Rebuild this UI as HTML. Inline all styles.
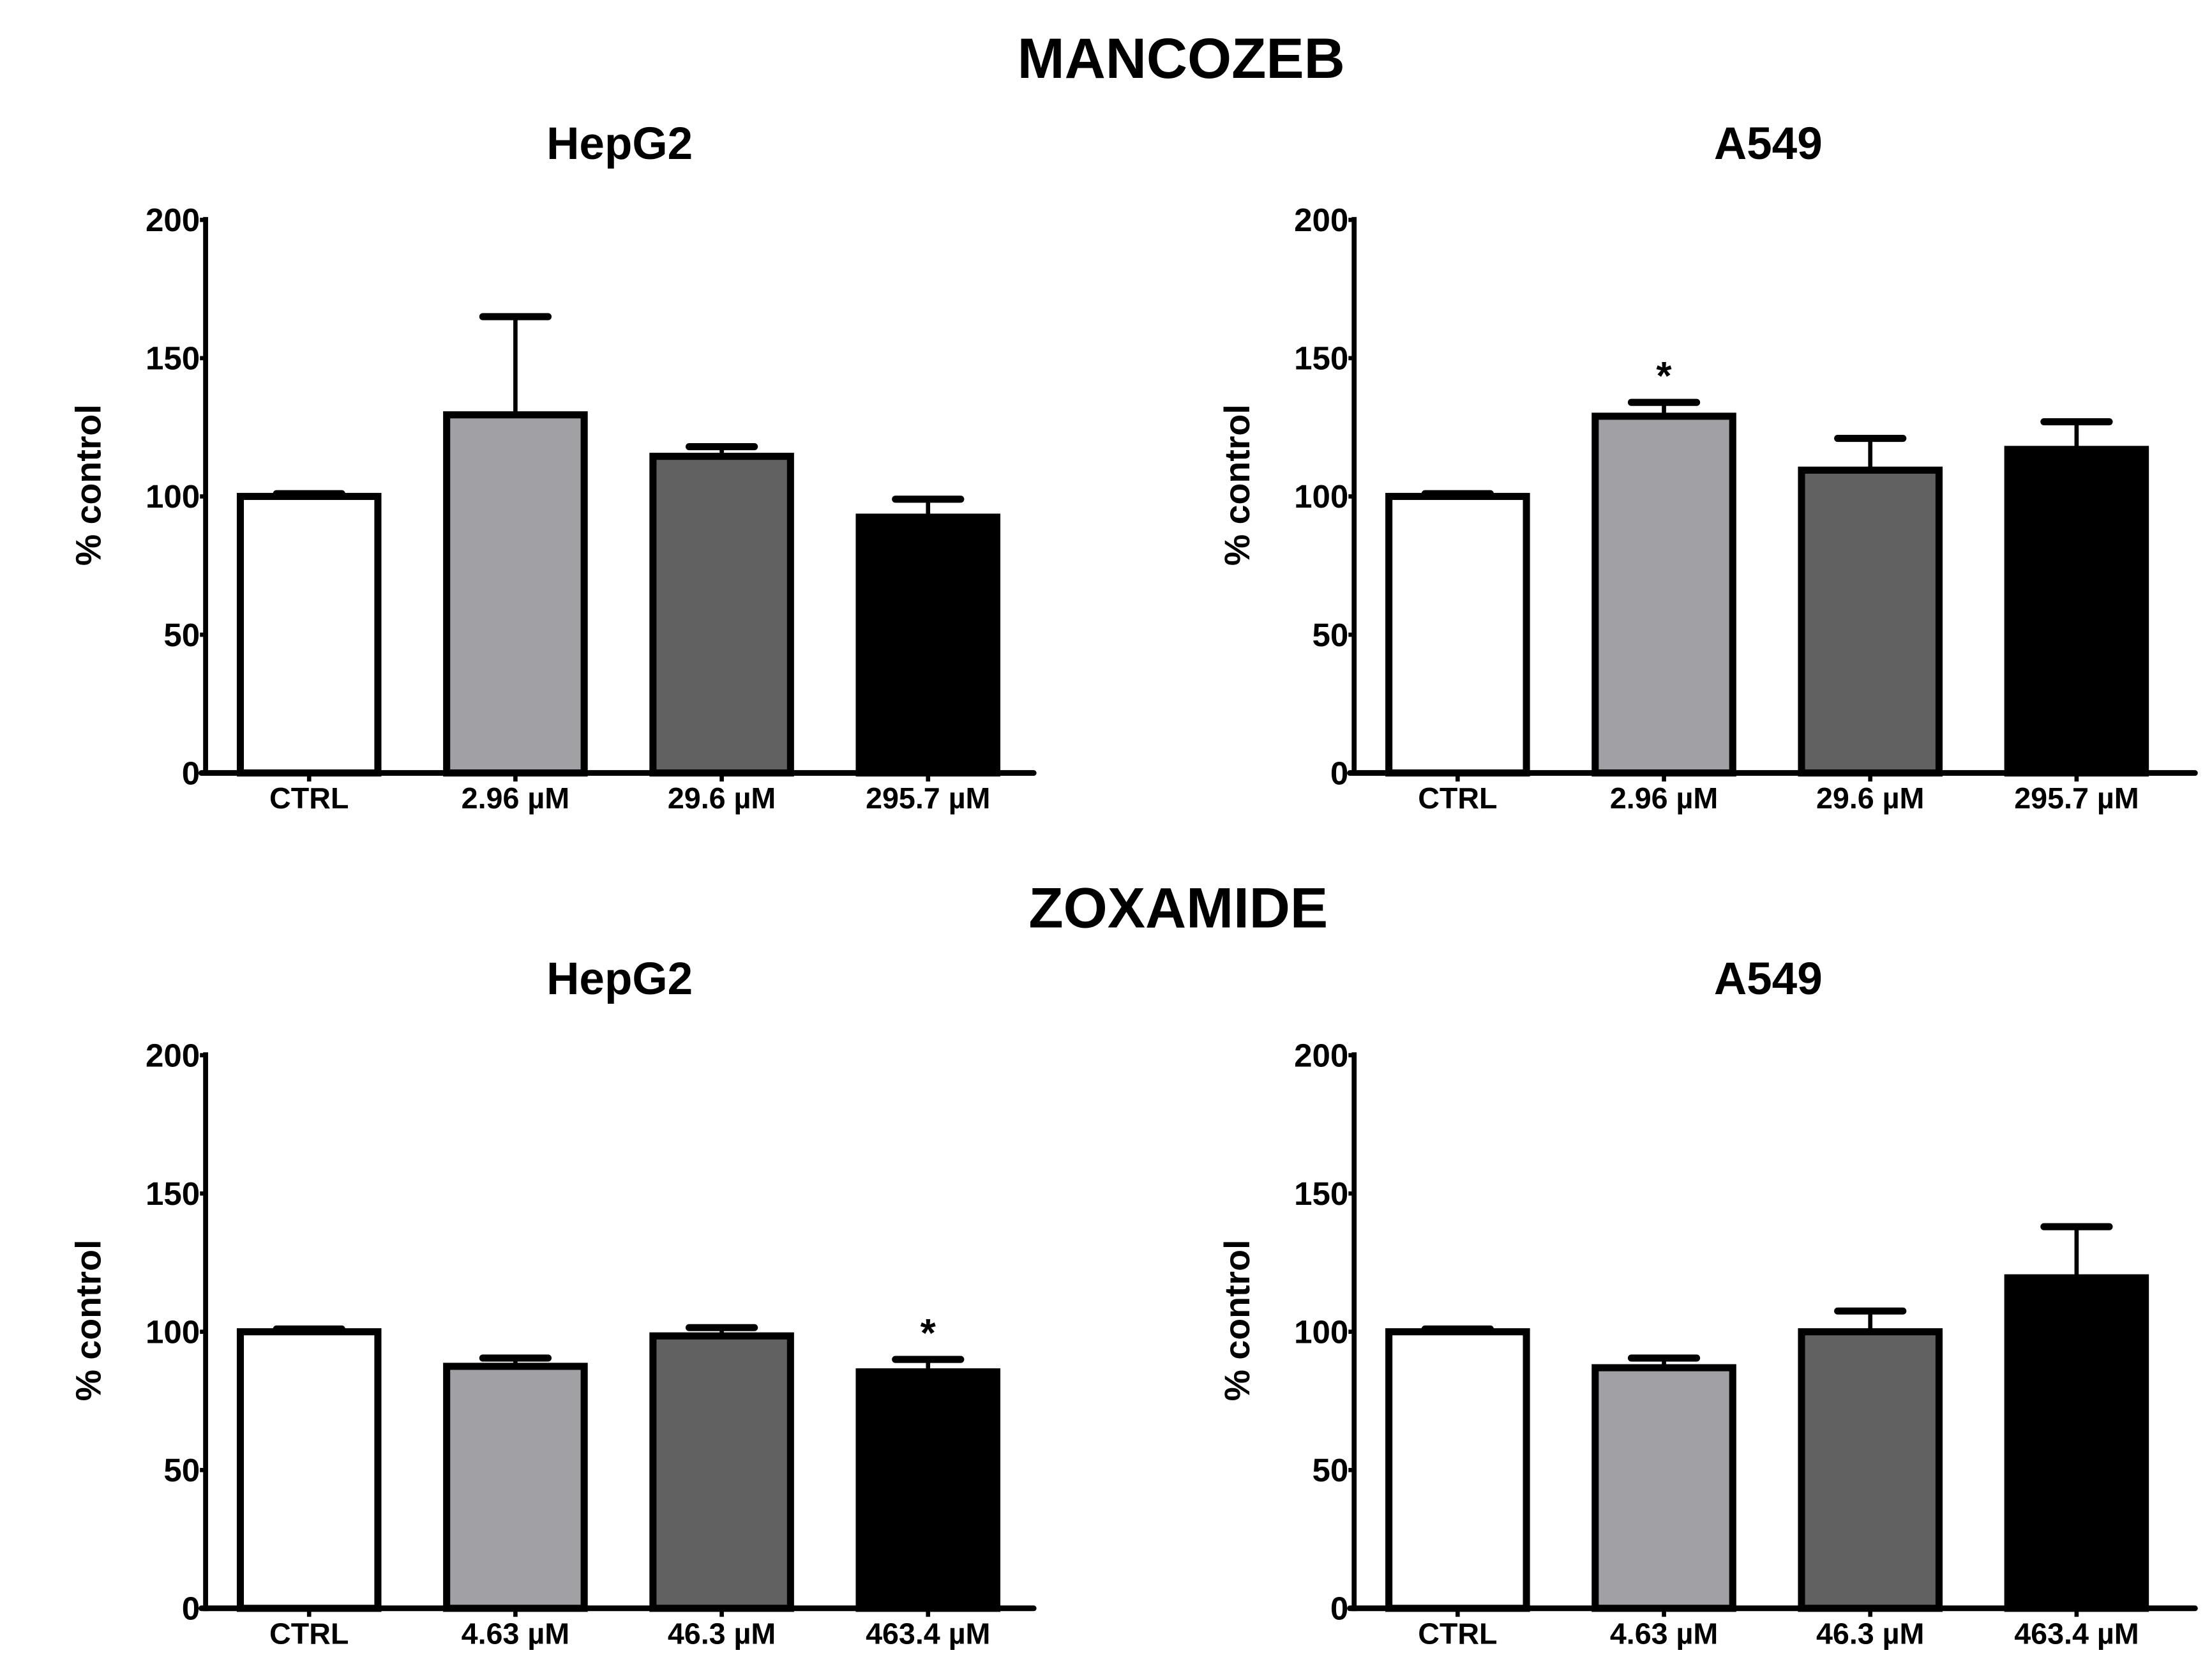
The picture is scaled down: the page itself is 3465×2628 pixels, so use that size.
<!DOCTYPE html>
<html><head><meta charset="utf-8"><style>
html,body{margin:0;padding:0;background:#fff;}
svg{display:block;}
text{font-family:"Liberation Sans",sans-serif;font-weight:bold;fill:#000;}
.n{font-family:"Liberation Sans Narrow","Liberation Sans",sans-serif;}
</style></head><body>
<svg id="fig" width="3465" height="2628" viewBox="0 0 1560 1183.1" xmlns="http://www.w3.org/2000/svg">
<text x="833" y="55" font-size="40" text-anchor="middle">MANCOZEB</text>
<text x="831" y="654" font-size="40" text-anchor="middle">ZOXAMIDE</text>
</svg>
<script>
const mancozebLabels = ["CTRL", "2.96 µM", "29.6 µM", "295.7 µM"];
const zoxamideLabels = ["CTRL", "4.63 µM", "46.3 µM", "463.4 µM"];
const yTicks = [0, 50, 100, 150, 200];
const barColors = ["#ffffff", "#a1a0a5", "#616161", "#000000"];
const mHepMeans = [100, 129.5, 114.5, 92.5];
const mHepErrs = [1, 35.5, 3.5, 6.5];
const mHepStars = [false, false, false, false];
const mA549Means = [100, 129, 109.5, 117];
const mA549Errs = [1, 5, 11.5, 10];
const mA549Stars = [false, true, false, false];
const zHepMeans = [100, 87.5, 98.5, 85.5];
const zHepErrs = [1, 3, 3, 4.5];
const zHepStars = [false, false, false, true];
const zA549Means = [100, 87, 100, 119.5];
const zA549Errs = [1, 3.5, 7.5, 18.5];
const zA549Stars = [false, false, false, false];

const NS = "http://www.w3.org/2000/svg";
const svg = document.getElementById('fig');
function mk(tag, attrs, parent) {
  const e = document.createElementNS(NS, tag);
  for (const k in attrs) e.setAttribute(k, attrs[k]);
  (parent || svg).appendChild(e);
  return e;
}
function panel(name, title, ax, xEnd, y0, labels, means, errs, stars) {
  const g = mk('g', {});
  
  
  const yTop = y0 - 390;
  const yScale = v => y0 - v * (390 / 200);
  const xCenter = i => ax + 73 + i * 145.5;
  const t = mk('text', {x: ax + 292, y: y0 - 433, 'font-size': 32, 'text-anchor': 'middle'}, g);
  t.textContent = title;
  
  
  const yl = mk('text', {x: 0, y: 0, 'font-size': 25, 'text-anchor': 'middle', transform: `translate(${ax - 74},${y0 - 203}) rotate(-90)`}, g);
  yl.textContent = '% control';
  
  
  means.forEach((m, i) => {
    const cx = xCenter(i), w = 97;
    const top = yScale(m), eTop = yScale(m + errs[i]);
    const el = mk('line', {x1: cx, x2: cx, y1: top, y2: eTop, stroke: '#000', 'stroke-width': 3}, g);
    
    
    const cap = mk('line', {x1: cx - 23, x2: cx + 23, y1: eTop, y2: eTop, stroke: '#000', 'stroke-width': 5, 'stroke-linecap': 'round'}, g);
    
    
    const r = mk('rect', {x: cx - w / 2, y: top, width: w, height: y0 - top, fill: barColors[i], stroke: '#000', 'stroke-width': 5}, g);
    
    
    if (stars[i]) {
      const s = mk('text', {x: cx, y: eTop - 9, 'font-size': 28, 'text-anchor': 'middle', 'font-weight': 'normal'}, g);
      s.textContent = '*';
      
      
    }
    const lab = mk('text', {x: cx, y: y0 + 25, 'font-size': 21, 'text-anchor': 'middle', class: 'n'}, g);
    lab.textContent = labels[i];
    
    
    const tk = mk('line', {x1: cx, x2: cx, y1: y0, y2: y0 + 6, stroke: '#000', 'stroke-width': 3}, g);
    
    
  });
  yTicks.forEach(v => {
    const yy = yScale(v);
    const tl = mk('text', {x: ax - 4, y: yy + 8, 'font-size': 23, 'text-anchor': 'end', class: 'n'}, g);
    tl.textContent = v;
    
    
    const tk = mk('line', {x1: ax - 4, x2: ax, y1: yy, y2: yy, stroke: '#000', 'stroke-width': 3}, g);
    
    
  });
  const ya = mk('line', {x1: ax, x2: ax, y1: yTop - 2, y2: y0 + 2, stroke: '#000', 'stroke-width': 3.5}, g);
  
  
  const xa = mk('line', {x1: ax - 3, x2: xEnd, y1: y0, y2: y0, stroke: '#000', 'stroke-width': 4, 'stroke-linecap': 'round'}, g);
  
  
}
panel('mancozeb-hepg2', 'HepG2', 145, 729, 545, mancozebLabels, mHepMeans, mHepErrs, mHepStars);
panel('mancozeb-a549', 'A549', 955, 1548, 545, mancozebLabels, mA549Means, mA549Errs, mA549Stars);
panel('zoxamide-hepg2', 'HepG2', 145, 729, 1134, zoxamideLabels, zHepMeans, zHepErrs, zHepStars);
panel('zoxamide-a549', 'A549', 955, 1548, 1134, zoxamideLabels, zA549Means, zA549Errs, zA549Stars);
</script>
</body></html>
